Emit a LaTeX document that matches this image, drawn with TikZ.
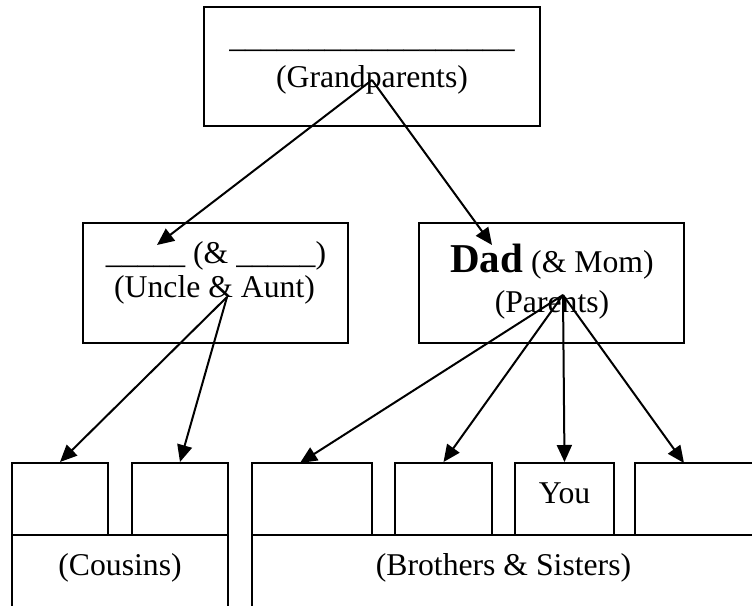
\documentclass[tikz,border=0pt]{standalone}
\usepackage{fontspec}
\setmainfont{Liberation Serif}
\usetikzlibrary{positioning,arrows.meta}

\begin{document}
\begin{tikzpicture}[x=1pt, y=-1pt,
    box/.style={draw, line width=2pt, inner sep=0pt},
    txt/.style={anchor=base, inner sep=0pt, font=\fontsize{31.7}{36}\selectfont},
    link/.style={-{Triangle[length=17pt,width=15pt]}, line width=2pt}]
                        \clip (0,0) rectangle (752,605);

                        % boxes
                        \node [box, minimum width=336pt, minimum height=119pt] (gp) at (372,66.5) {};
                        \node [box, minimum width=265pt, minimum height=120pt] (uncle) at (215.5,283) {};
                        \node [box, minimum width=265pt, minimum height=120pt] (dad) at (551.5,283) {};

                        \node [box, minimum width=96pt, minimum height=72pt] (c1) at (60,499) {};
                        \node [box, minimum width=96pt, minimum height=72pt] (c2) at (180,499) {};
                        \node [box, minimum width=120pt, minimum height=72pt] (s1) at (312,499) {};
                        \node [box, minimum width=97pt, minimum height=72pt] (s2) at (443.5,499) {};
                        \node [box, minimum width=99pt, minimum height=72pt] (you) at (564.5,499) {};
                        \node [box, minimum width=145pt, minimum height=72pt] (s4) at (707.5,499) {};
                        \node [box, minimum width=216pt, minimum height=85pt] (cousins) at (120,577.5) {};
                        \node [box, minimum width=504pt, minimum height=85pt] (sibs) at (504,577.5) {};

                        % texts
                        \node [txt] (gpline) at (372,47.5) {\_\_\_\_\_\_\_\_\_\_\_\_\_\_\_\_\_\_};
                        \node [txt] (gpname) at (372,87) {(Grandparents)};
                        \node [txt] (uncleline) at (216,263) {\_\_\_\_\_ (\& \_\_\_\_\_)};
                        \node [txt] (unclename) at (214.5,297) {(Uncle \& Aunt)};
                        \node [txt] (dadline) at (552,272) {{\fontsize{41}{48}\selectfont\bfseries Dad} (\& Mom)};
                        \node [txt] (dadname) at (552,312) {(Parents)};
                        \node [txt] (youname) at (564.5,503) {You};
                        \node [txt] (cousinsname) at (120,575) {(Cousins)};
                        \node [txt] (sibsname) at (503.5,575) {(Brothers \& Sisters)};

                        % arrow ends
                        \coordinate (gpout) at (372,80);
                        \coordinate (uncleout) at (227,297);
                        \coordinate (dadout) at (563,295);
                        \coordinate (uncletip) at (157,245);
                        \coordinate (dadtip) at (492,245);
                        \coordinate (s1tip) at (300,463);
                        \coordinate (s4tip) at (684,463);

                        \path[link]
                        (gpout) edge (uncletip)
                        (gpout) edge (dadtip)
                        (uncleout) edge (c1.north)
                        (uncleout) edge (c2.north)
                        (dadout) edge (s1tip)
                        (dadout) edge (s2.north)
                        (dadout) edge (you.north)
                        (dadout) edge (s4tip);
                    \end{tikzpicture}
\end{document}
